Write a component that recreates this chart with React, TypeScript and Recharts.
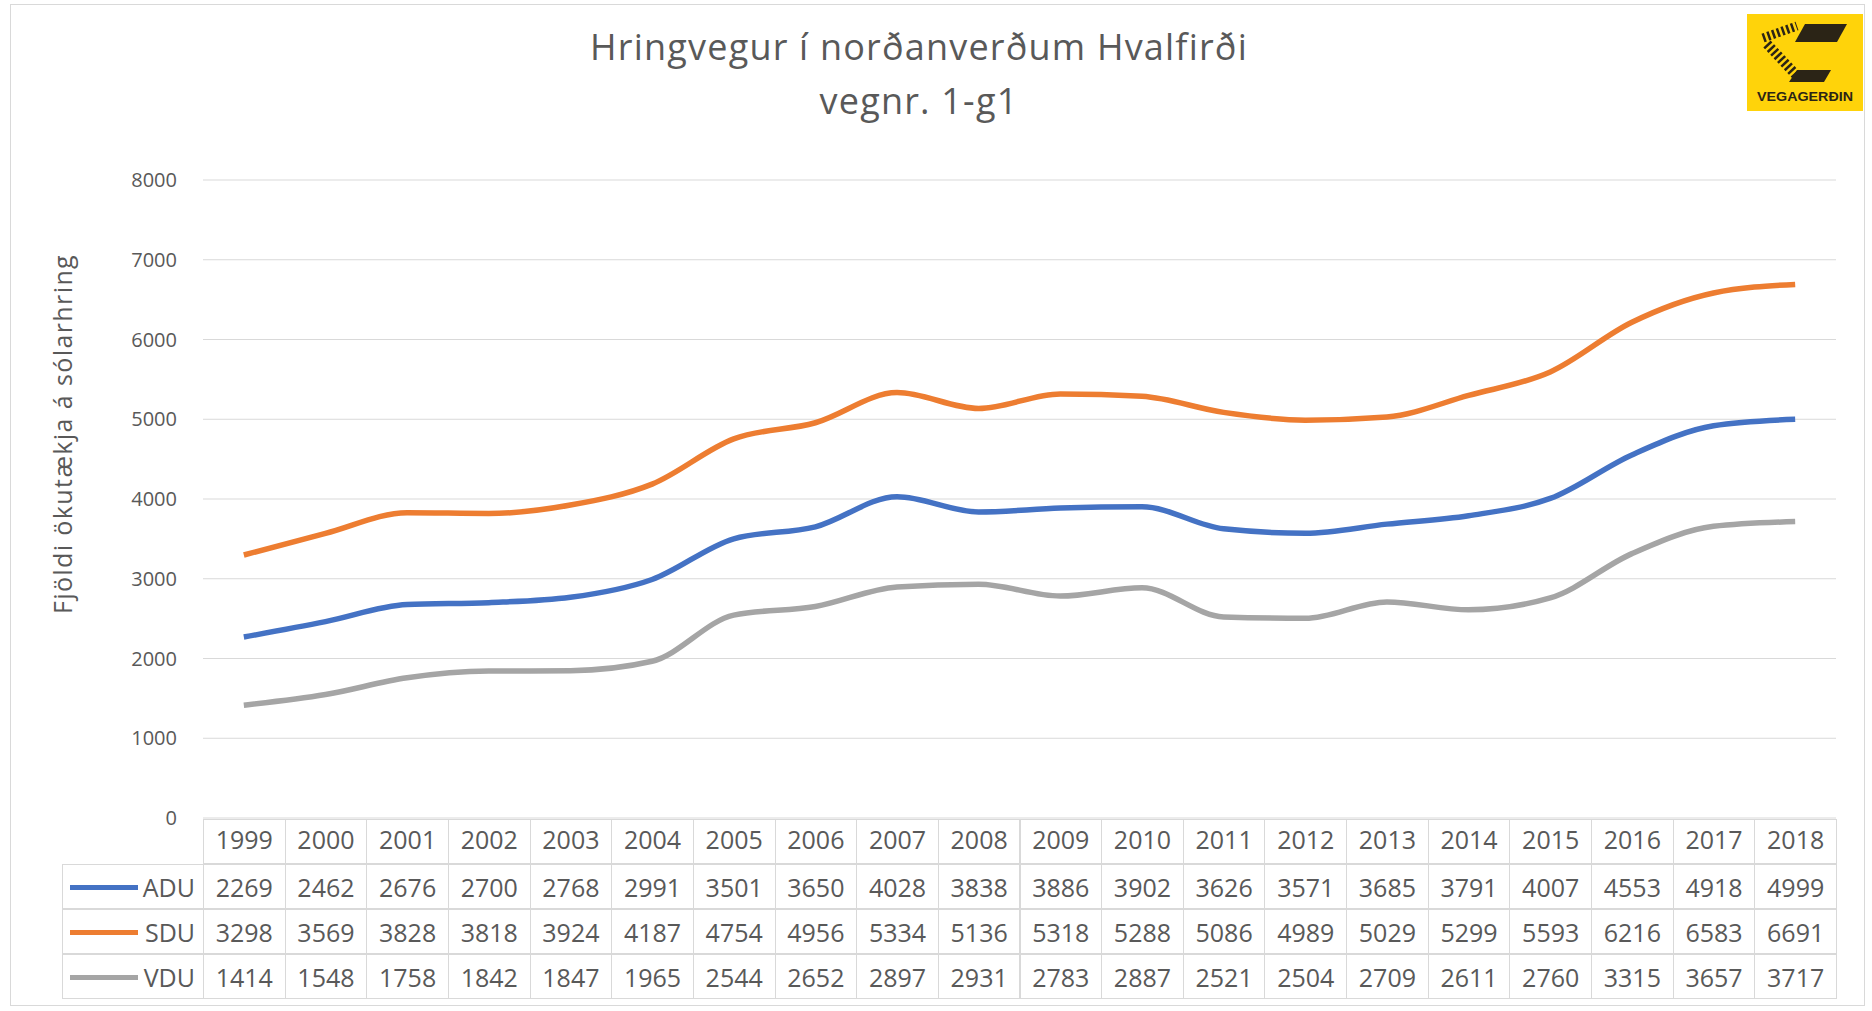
import React from "react";
import { CartesianGrid, Line, LineChart, XAxis, YAxis } from "recharts";

const years = [
  "1999", "2000", "2001", "2002", "2003", "2004", "2005", "2006", "2007", "2008",
  "2009", "2010", "2011", "2012", "2013", "2014", "2015", "2016", "2017", "2018",
];
const adu = [2269, 2462, 2676, 2700, 2768, 2991, 3501, 3650, 4028, 3838, 3886, 3902, 3626, 3571, 3685, 3791, 4007, 4553, 4918, 4999];
const sdu = [3298, 3569, 3828, 3818, 3924, 4187, 4754, 4956, 5334, 5136, 5318, 5288, 5086, 4989, 5029, 5299, 5593, 6216, 6583, 6691];
const vdu = [1414, 1548, 1758, 1842, 1847, 1965, 2544, 2652, 2897, 2931, 2783, 2887, 2521, 2504, 2709, 2611, 2760, 3315, 3657, 3717];
const yTicks = [0, 1000, 2000, 3000, 4000, 5000, 6000, 7000, 8000];

const series = [
  { key: "ADU", values: adu, color: "#4472C4" },
  { key: "SDU", values: sdu, color: "#ED7D31" },
  { key: "VDU", values: vdu, color: "#A5A5A5" },
];

const data = years.map((year, i) => ({
  year,
  ADU: adu[i],
  SDU: sdu[i],
  VDU: vdu[i],
}));

const W = 1872;
const H = 1011;
const PLOT_L = 203;
const PLOT_R = 1836;
const PLOT_T = 180;
const PLOT_B = 818;
const COL_W = (PLOT_R - PLOT_L) / years.length;
const ROW_H = 45;
const LABEL_L = 62;
const TEXT = "#595959";
const BORDER = "#d9d9d9";
const FONT = "'Open Sans', sans-serif";

// rough sketch of the Vegagerðin logo
function Logo() {
  const ink = "#2b2416";
  return (
    <svg
      width={116}
      height={97}
      style={{ position: "absolute", left: 1747, top: 14 }}
    >
      <rect x={0} y={0} width={116} height={97} fill="#FFD30A" />
      <path
        d="M16 24 L50 12"
        stroke={ink}
        strokeWidth={9}
        strokeDasharray="2.5 2.5"
        fill="none"
      />
      <path
        d="M20 30 L50 62"
        stroke={ink}
        strokeWidth={10}
        strokeDasharray="2.5 2.5"
        fill="none"
      />
      <polygon points="58,10 100,10 90,28 48,28" fill={ink} />
      <polygon points="50,56 84,56 77,68 42,68" fill={ink} />
      <text
        x={58}
        y={87}
        textAnchor="middle"
        fontFamily="'Liberation Sans', sans-serif"
        fontWeight={700}
        fontSize={12}
        textLength={96}
        lengthAdjust="spacingAndGlyphs"
        fill={ink}
      >
        VEGAGERÐIN
      </text>
    </svg>
  );
}

function DataTable() {
  const cell: React.CSSProperties = {
    position: "absolute",
    height: ROW_H,
    lineHeight: `${ROW_H}px`,
    boxSizing: "border-box",
    border: `1px solid ${BORDER}`,
    textAlign: "center",
    fontSize: 25,
    color: TEXT,
    fontFamily: FONT,
  };
  return (
    <div style={{ position: "absolute", left: 0, top: 0 }}>
      {years.map((year, i) => (
        <div
          key={year}
          style={{ ...cell, left: PLOT_L + i * COL_W, top: PLOT_B + 1, width: COL_W + 1, lineHeight: `${ROW_H - 6}px` }}
        >
          {year}
        </div>
      ))}
      {series.map((s, r) => {
        const top = PLOT_B + 1 + (r + 1) * ROW_H;
        return (
          <React.Fragment key={s.key}>
            <div
              style={{
                ...cell,
                left: LABEL_L,
                top,
                width: PLOT_L - LABEL_L + 1,
                textAlign: "right",
                paddingRight: 8,
              }}
            >
              <span
                style={{
                  position: "absolute",
                  left: 7,
                  top: ROW_H / 2 - 3,
                  width: 68,
                  height: 5,
                  background: s.color,
                }}
              />
              {s.key}
            </div>
            {s.values.map((v, i) => (
              <div
                key={i}
                style={{ ...cell, left: PLOT_L + i * COL_W, top, width: COL_W + 1 }}
              >
                {v}
              </div>
            ))}
          </React.Fragment>
        );
      })}
    </div>
  );
}

export default function App() {
  return (
    <div
      style={{
        position: "absolute",
        left: 0,
        top: 0,
        width: W,
        height: H,
        background: "#ffffff",
        overflow: "hidden",
        fontFamily: FONT,
      }}
    >
      <div
        style={{
          position: "absolute",
          left: 10,
          top: 4,
          width: 1855,
          height: 1002,
          border: `1px solid ${BORDER}`,
          boxSizing: "border-box",
        }}
      />
      <div
        style={{
          position: "absolute",
          left: 0,
          width: 1838,
          top: 20,
          textAlign: "center",
          fontSize: 36,
          letterSpacing: 1.2,
          lineHeight: "54px",
          color: TEXT,
        }}
      >
        <div>Hringvegur í norðanverðum Hvalfirði</div>
        <div>vegnr. 1-g1</div>
      </div>
      <Logo />
      <div
        style={{
          position: "absolute",
          left: 62,
          top: 434,
          transform: "translate(-50%, -50%) rotate(-90deg)",
          whiteSpace: "nowrap",
          fontSize: 25,
          letterSpacing: 1.4,
          color: TEXT,
        }}
      >
        Fjöldi ökutækja á sólarhring
      </div>
      <div style={{ position: "absolute", left: 0, top: 0 }}>
        <LineChart
          width={W}
          height={H}
          data={data}
          margin={{ top: PLOT_T, bottom: H - PLOT_B, left: 0, right: W - PLOT_R }}
        >
          <CartesianGrid stroke={BORDER} vertical={false} />
          <XAxis
            dataKey="year"
            hide
            padding={{ left: COL_W / 2, right: COL_W / 2 }}
          />
          <YAxis
            width={PLOT_L}
            domain={[0, 8000]}
            ticks={yTicks}
            tickLine={false}
            axisLine={false}
            tickMargin={20}
            tick={{ fill: TEXT, fontSize: 20, fontFamily: FONT }}
          />
          {series.map((s) => (
            <Line
              key={s.key}
              type="monotone"
              dataKey={s.key}
              stroke={s.color}
              strokeWidth={5.5}
              dot={false}
              isAnimationActive={false}
            />
          ))}
        </LineChart>
      </div>
      <DataTable />
    </div>
  );
}
